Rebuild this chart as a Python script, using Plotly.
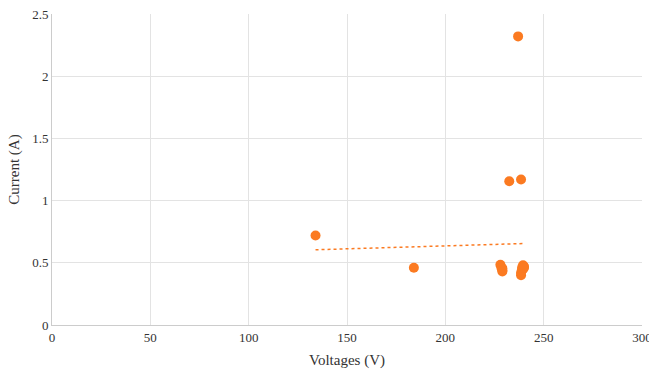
import numpy as np
import plotly.graph_objects as go

voltages = [134, 184, 237, 232.5, 238.5, 228, 229, 229, 239.5, 240, 238.5, 239,
            228.5, 239, 239.5, 229, 238.5, 240]
currents = [0.72, 0.46, 2.32, 1.155, 1.17, 0.485, 0.43, 0.455, 0.48, 0.47, 0.40, 0.44,
            0.46, 0.46, 0.45, 0.44, 0.42, 0.46]

x_ticks = [0, 50, 100, 150, 200, 250, 300]
y_ticks = [0, 0.5, 1, 1.5, 2, 2.5]
y_tick_text = ["0", "0.5", "1", "1.5", "2", "2.5"]

color = "#fb7a21"
serif = "'Liberation Serif', 'Times New Roman', Times, serif"

slope, intercept = np.polyfit(voltages, currents, 1)
trend_x = [min(voltages), max(voltages)]
trend_y = [slope * v + intercept for v in trend_x]

fig = go.Figure()
fig.add_trace(go.Scatter(x=trend_x, y=trend_y, mode="lines",
                         line=dict(color=color, width=1.5, dash="dot"),
                         hoverinfo="skip", showlegend=False))
fig.add_trace(go.Scatter(x=voltages, y=currents, mode="markers",
                         marker=dict(color=color, size=10),
                         showlegend=False, cliponaxis=False))

fig.update_layout(
    width=649, height=371,
    margin=dict(l=52, r=7, t=14, b=46),
    paper_bgcolor="white", plot_bgcolor="white",
    font=dict(family=serif, size=13, color="#333333"),
    xaxis=dict(range=[0, 300.001], tickvals=x_ticks, showgrid=True, gridcolor="#e3e3e3",
               showline=True, linecolor="#cccccc", zeroline=False, automargin=False,
               ticklabeloverflow="allow",
               title=dict(text="Voltages (V)", font=dict(family=serif, size=15), standoff=10),
               ticks="", fixedrange=True, tickfont=dict(family=serif, size=13)),
    yaxis=dict(range=[0, 2.5], tickvals=y_ticks, ticktext=y_tick_text, showgrid=True,
               gridcolor="#e3e3e3", showline=True, linecolor="#cccccc", zeroline=False,
               automargin=False,
               title=dict(text="Current (A)", font=dict(family=serif, size=15), standoff=8),
               ticks="", fixedrange=True, tickfont=dict(family=serif, size=13)),
)
fig.write_html("out.html", config={"displayModeBar": False},
               post_script="document.body.style.margin='0';document.body.style.overflow='hidden';")
